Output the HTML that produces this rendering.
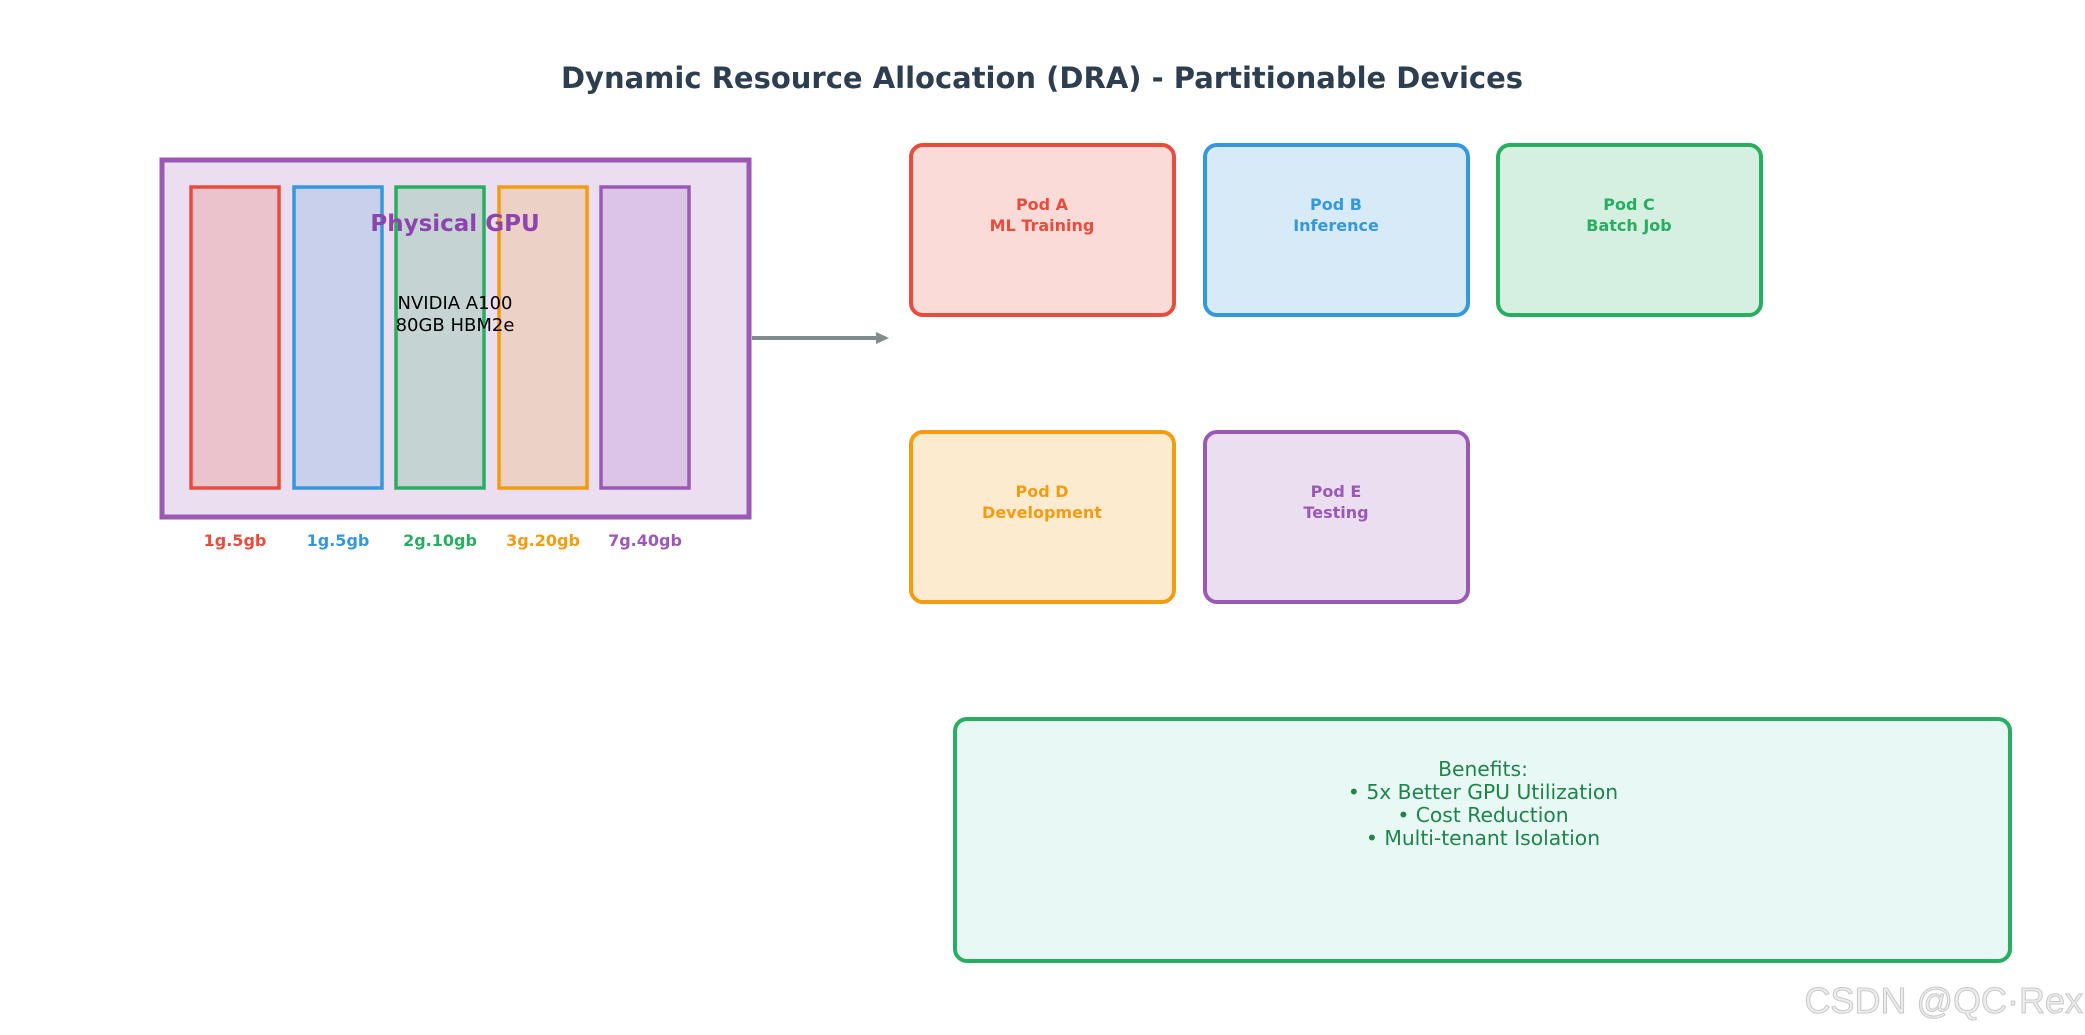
<!DOCTYPE html>
<html><head><meta charset="utf-8"><style>html,body{margin:0;padding:0;background:#fff}svg{display:block}</style></head><body>
<svg width="2085" height="1035" viewBox="0 0 2085 1035" xmlns="http://www.w3.org/2000/svg" font-family="DejaVu Sans, Liberation Sans, sans-serif">
<text x="1042" y="88" text-anchor="middle" font-size="29" font-weight="bold" fill="#2c3e50">Dynamic Resource Allocation (DRA) - Partitionable Devices</text>
<rect x="162" y="160" width="587" height="357" fill="#ebdef0" stroke="#9b59b6" stroke-width="5"/>
<rect x="191" y="187" width="88" height="301" fill="#eac3cc" stroke="#e74c3c" stroke-width="3.5"/>
<rect x="294" y="187" width="88" height="301" fill="#c8d0eb" stroke="#3498db" stroke-width="3.5"/>
<rect x="396" y="187" width="88" height="301" fill="#c5d4d3" stroke="#27ae60" stroke-width="3.5"/>
<rect x="499" y="187" width="88" height="301" fill="#ecd1c6" stroke="#f39c12" stroke-width="3.5"/>
<rect x="601" y="187" width="88" height="301" fill="#dcc4e7" stroke="#9b59b6" stroke-width="3.5"/>
<text x="455" y="231" text-anchor="middle" font-size="23" font-weight="bold" fill="#8e44ad">Physical GPU</text>
<text x="455" y="309" text-anchor="middle" font-size="18" fill="#000">NVIDIA A100</text>
<text x="455" y="331" text-anchor="middle" font-size="18" fill="#000">80GB HBM2e</text>
<g font-size="16" font-weight="bold" text-anchor="middle">
<text x="235" y="546" fill="#e74c3c">1g.5gb</text>
<text x="338" y="546" fill="#3498db">1g.5gb</text>
<text x="440" y="546" fill="#27ae60">2g.10gb</text>
<text x="543" y="546" fill="#f39c12">3g.20gb</text>
<text x="645" y="546" fill="#9b59b6">7g.40gb</text>
</g>
<line x1="752" y1="338" x2="884" y2="338" stroke="#7f8c8d" stroke-width="4"/>
<path d="M876 332 L889 338 L876 344 Z" fill="#7f8c8d"/>
<g stroke-width="4">
<rect x="911" y="145" width="263" height="170" rx="12" fill="#fadbd8" stroke="#e74c3c"/>
<rect x="1205" y="145" width="263" height="170" rx="12" fill="#d6eaf8" stroke="#3498db"/>
<rect x="1498" y="145" width="263" height="170" rx="12" fill="#d5efe0" stroke="#27ae60"/>
<rect x="911" y="432" width="263" height="170" rx="12" fill="#fdebd0" stroke="#f39c12"/>
<rect x="1205" y="432" width="263" height="170" rx="12" fill="#ebdef0" stroke="#9b59b6"/>
</g>
<g font-size="16" font-weight="bold" text-anchor="middle">
<text x="1042" y="210" fill="#e74c3c">Pod A</text><text x="1042" y="231" fill="#e74c3c">ML Training</text>
<text x="1336" y="210" fill="#3498db">Pod B</text><text x="1336" y="231" fill="#3498db">Inference</text>
<text x="1629" y="210" fill="#27ae60">Pod C</text><text x="1629" y="231" fill="#27ae60">Batch Job</text>
<text x="1042" y="497" fill="#f39c12">Pod D</text><text x="1042" y="518" fill="#f39c12">Development</text>
<text x="1336" y="497" fill="#9b59b6">Pod E</text><text x="1336" y="518" fill="#9b59b6">Testing</text>
</g>
<rect x="955" y="719" width="1055" height="242" rx="12" fill="#e8f8f5" stroke="#27ae60" stroke-width="4"/>
<g font-size="20.3" text-anchor="middle" fill="#1e8449">
<text x="1483" y="776">Benefits:</text>
<text x="1483" y="799">• 5x Better GPU Utilization</text>
<text x="1483" y="822">• Cost Reduction</text>
<text x="1483" y="845">• Multi-tenant Isolation</text>
</g>
<text x="2083" y="1013" text-anchor="end" font-family="Liberation Sans, sans-serif" font-size="36" fill="#eeeeee" stroke="#c8c8c8" stroke-width="1">CSDN @QC·Rex</text>
</svg>
</body></html>
